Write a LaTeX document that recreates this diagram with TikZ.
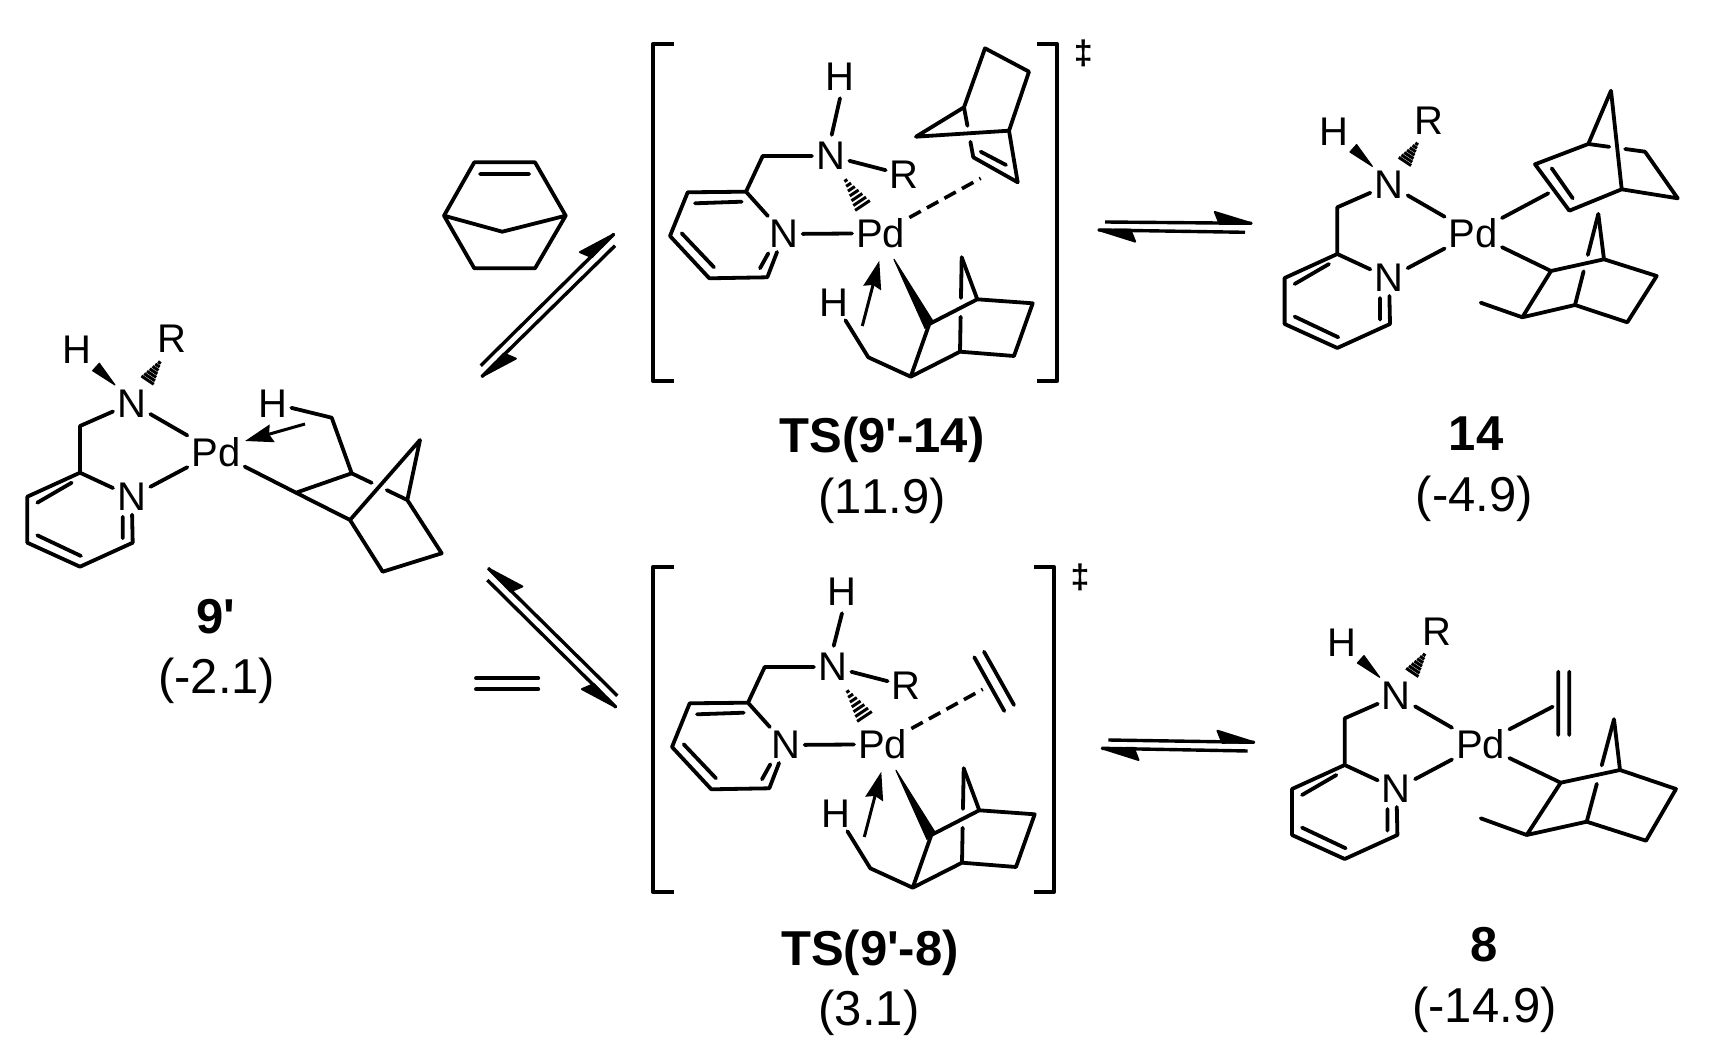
\documentclass[tikz,border=0pt]{standalone}
\usepackage{fontspec}
\setmainfont{Liberation Sans}[Ligatures=TeXOff,Kerning=Off]
\usetikzlibrary{calc,arrows.meta}

\tikzset{
	bondline/.style={line width=3.8pt,line cap=round,line join=round},
	hashline/.style={line width=3pt},
	wedgefill/.style={fill=black,draw=black,line width=1.2pt,line join=round},
	dashbond/.style={line width=3.6pt,dash pattern=on 13pt off 7pt},
	eqline/.style={line width=3.4pt,line join=round},
	donor/.style={line width=3pt,-{Stealth[length=28pt,width=18pt,inset=3pt]}},
	atom/.style={font=\fontsize{40}{40}\selectfont,inner sep=4pt},
	dagmark/.style={font=\fontsize{34}{34}\selectfont\bfseries,inner sep=0pt},
	cmpdname/.style={font=\fontsize{49}{49}\selectfont\bfseries,anchor=base,inner sep=0pt},
	energy/.style={font=\fontsize{49}{49}\selectfont,anchor=base,inner sep=0pt}
}

\def\placepts#1{\foreach \nm/\px/\py in {#1} \coordinate (\nm) at (\px,\py);}
\def\gapbond(#1)(#2)#3#4{\draw[bondline] (#1) -- ($(#1)!#3!(#2)$); \draw[bondline] ($(#1)!#4!(#2)$) -- (#2);}
\def\hashbond(#1)(#2)#3{\foreach \i in {0,...,6}{\pgfmathsetmacro\t{(\i+0.3)/6.6}\pgfmathsetmacro\w{1.4+#3*\t}
		\draw[hashline] ($($(#1)!\t!(#2)$)!\w pt!90:(#2)$) -- ($($(#1)!\t!(#2)$)!\w pt!-90:(#2)$);}}
\def\eqarrow(#1)(#2)#3#4{\draw[eqline] (#1) -- (#2);
	\filldraw[eqline,line width=2pt] (#2) -- ($(#2)!37pt!(#1)!11pt!#3:(#2)$) -- ($(#2)!32pt!(#1)!1pt!#4:(#2)$) -- cycle;}
% pyridine ring and its CH2 arm
\def\pyring{\draw[bondline] (n1) -- (ch2) -- (c2) -- (n2) -- (c6) -- (c5) -- (c4) -- (c3) -- (c2);
	\draw[bondline] (i1) -- (i2) (i3) -- (i4) (i5) -- (i6);}
% neutral fragment with H and R on N, origin at Pd
\def\pyfrag#1(#2){\begin{scope}[shift={(#2)},name prefix=#1-]
		\node[atom] (pd) at (0,0) {Pd};
		\node[atom] (n1) at (-84.3,-48.7) {N};
		\node[atom] (n2) at (-84.3,44.7) {N};
		\node[atom] (h) at (-139,-102) {H};
		\node[atom] (r) at (-44,-113) {R};
		\placepts{ch2/-136/-26,c2/-136/20.7,c3/-188.7/44.7,c4/-188.7/90.7,c5/-136/114.7,c6/-83.3/90.7,
			i1/-178.7/50.7,i2/-144.3/30.7,i3/-178.7/83.3,i4/-135/104,i5/-93.3/64.7,i6/-93.3/86.3,
			wa/-101/-67,wb/-116.7/-88.7,wc/-123.3/-81.3,ha/-56/-90.3,hb/-69/-71}
		\pyring
		\draw[bondline] (n1) -- (pd) (n2) -- (pd);
		\path[wedgefill] (wa) -- (wb) -- (wc) -- cycle;
		\hashbond(ha)(hb){6.3}
	\end{scope}}
% transition state fragment with the agostic norbornyl, origin at Pd
\def\tsfrag#1(#2)#3#4{\begin{scope}[shift={(#2)},name prefix=#1-]
		\node[atom] (pd) at (0,0) {Pd};
		\node[atom] (n1) at (-50,-77.3) {N};
		\node[atom] (n2) at (-96.7,0.7) {N};
		\node[atom] (h) at (-40.7,#3) {H};
		\node[atom] (r) at (23.6,-58.3) {R};
		\node[atom] (ha) at (-46.7,69) {H};
		\placepts{ch2/-118/-77.3,c2/-134.7/-41.6,c3/-193/-41,c4/-210.7/2.7,c5/-171.4/45,c6/-113.4/44,
			i1/-185.7/-30,i2/-139/-31.6,i3/-199/0,i4/-166.7/34,i5/-120.7/35,i6/-112.4/20,
			hsa/-35.7/-54,hsb/-17.4/-26.6,wa/13.3/26,wb/52.6/88.4,wc/44.3/95,
			cw/-33.4/90,cv/-12.4/124,cu/30/143.4,cp/48.6/90.7,cq/96.6/66,cr/152/70,cs/133.3/122.7,ct/79.3/118.4,cx/81/24,
			ar/-18.4/92.7,as/-1.4/27.4,nh/-49/-98.4,hn/-40.7/#4}
		\pyring
		\draw[bondline] (nh) -- (hn) (n1) -- (r) (n2) -- (pd);
		\hashbond(hsa)(hsb){7.8}
		\path[wedgefill] (wa) -- (wb) -- (wc) -- cycle;
		\draw[bondline] (ha) -- (cw) -- (cv) -- (cu) -- (cp) -- (cq) -- (cr) -- (cs) -- (ct) -- (cu) (cx) -- (cq);
		\gapbond(cx)(ct){0.43}{0.63}
		\draw[donor] (ar) -- (as);
	\end{scope}}
% norbornyl with its methyl end, points named beforehand
\def\nbalkyl#1{\begin{scope}[name prefix=#1-]
		\draw[bondline] (pd) -- (lp) -- (lq) -- (lr) -- (ls) -- (lt) -- (lu) -- (lp) (lu) -- (lm) (lv) -- (lq);
		\gapbond(lv)(lt){0.45}{0.63}
	\end{scope}}

\begin{document}
\begin{tikzpicture}[x=1pt,y=-1pt]
	\useasboundingbox (0,0) rectangle (1709,1056);
	%%%%% 9' %%%%%
	\pyfrag{nine}(216,452)
	\node[atom] (nineh) at (272.7,403.3) {H};
	\placepts{na/296/492.7,nb/351.7/473.3,nc/350/520,nd/407.3/500,ne/420/440,nf/382.7/571.7,ng/441.7/553.3,nch/331.7/417.7,
		nar/305/424,nas/245/441}
	\draw[bondline] (nine-pd) -- (na) -- (nb) -- (nch) -- (nineh);
	\draw[bondline] (na) -- (nc) -- (ne) -- (nd) -- (ng) -- (nf) -- (nc);
	\gapbond(nb)(nd){0.36}{0.63}
	\draw[donor] (nar) -- (nas);
	\node[cmpdname] (nname) at (215.5,633) {9'};
	\node[energy] (nen) at (216.7,693) {(-2.1)};
	
	%%%%% norbornene and ethylene on the arrows %%%%%
	\placepts{ba/474.3/162.3,bb/535/162.3,bc/565.7/215.7,bd/535/268.3,be/474.3/268.3,bf/444/215.7,bg/502.3/231.7,bi/480/174,bj/529.3/174}
	\draw[bondline] (ba) -- (bb) -- (bc) -- (bd) -- (be) -- (bf) -- cycle (bf) -- (bg) -- (bc) (bi) -- (bj);
	\placepts{ea/476/678.3,eb/538.3/678.3,ec/476/689.3,ed/538.3/689.3}
	\draw[bondline] (ea) -- (eb) (ec) -- (ed);
	
	%%%%% equilibrium arrows %%%%%
	\placepts{ua/480.7/365.7,ub/614/234,uc/615/245.7,ud/481.7/376.7,
		la/617.3/695.7,lb/488.3/568.3,lc/487.3/580,ld/616/707.3,
		ta/1105/222,tb/1251.7/223.3,tc/1245/232.3,td/1098.3/230,
		sa/1108.3/740,sb/1254.3/742.3,sc/1247.7/751,sd/1101.7/748.3}
	\eqarrow(ua)(ub){90}{-90}
	\eqarrow(uc)(ud){90}{-90}
	\eqarrow(la)(lb){-90}{90}
	\eqarrow(lc)(ld){-90}{90}
	\eqarrow(ta)(tb){90}{-90}
	\eqarrow(tc)(td){90}{-90}
	\eqarrow(sa)(sb){90}{-90}
	\eqarrow(sc)(sd){90}{-90}
	
	%%%%% TS(9'-14) %%%%%
	\tsfrag{tsa}(880.7,233.3){-156.6}{-135}
	\placepts{oa/985/48.3,ob/1029/71.7,oc/1009/130.7,od/964/107.3,oe/916/136.7,of/973.3/157.3,og/1017.7/182.3,
		oi/980.7/151.7,oj/1006/165,oh/980.7/178.3}
	\draw[bondline] (oe) -- (od) -- (oa) -- (ob) -- (oc) -- (oe) (oc) -- (og) -- (of) (oi) -- (oj);
	\gapbond(od)(of){0.37}{0.69}
	\draw[dashbond] (tsa-pd) -- (oh);
	\placepts{ka/674/44,kb/652.7/44,kc/652.7/380.7,kd/674/380.7,ke/1037.3/44,kf/1057.3/44,kg/1057.3/380.7,kh/1037.3/380.7}
	\draw[bondline,line cap=butt] (ka) -- (kb) -- (kc) -- (kd) (ke) -- (kf) -- (kg) -- (kh);
	\node[dagmark] (kdag) at (1083.3,53.3) {‡};
	\node[cmpdname] (kname) at (882,452.5) {TS(9'-14)};
	\node[energy] (ken) at (882,513.5) {(11.9)};
	
	%%%%% 14 %%%%%
	\pyfrag{ft}(1473.3,233.3)
	\placepts{fa/1535/164.3,fb/1569.3/210.7,fc/1621.7/189.3,fd/1588.3/144,fe/1611/90.7,ff/1645/151.7,fg/1677.7/198.3,
		fi/1551.7/168.3,fj/1572.7/198.3,fk/1548.3/193.3}
	\draw[bondline] (fb) -- (fa) -- (fd) -- (fe) -- (fc) -- (fb) (fc) -- (fg) -- (ff) (fi) -- (fj);
	\gapbond(fd)(ff){0.37}{0.65}
	\draw[bondline] (ft-pd) -- (fk);
	\placepts{ft-lp/1551/271,ft-lq/1604/259.3,ft-lr/1656.7/276,ft-ls/1627.3/322.3,ft-lt/1575/305,ft-lu/1522.3/317.3,ft-lm/1480.7/302.7,ft-lv/1598.3/214}
	\nbalkyl{ft}
	\node[cmpdname] (fname) at (1476,451) {14};
	\node[energy] (fen) at (1474.5,511.5) {(-4.9)};
	
	%%%%% TS(9'-8) %%%%%
	\tsfrag{tsb}(882.7,744.3){-152.6}{-131}
	\placepts{ya/974.3/657.3,yb/1004.3/711,yc/984/651.7,yd/1014/705,yh/982.7/689.3}
	\draw[bondline] (ya) -- (yb) (yc) -- (yd);
	\draw[dashbond] (tsb-pd) -- (yh);
	\placepts{ja/674/567.3,jb/652.7/567.3,jc/652.7/891.7,jd/674/891.7,je/1034.3/567.3,jf/1054.3/567.3,jg/1054.3/891.7,jh/1034.3/891.7}
	\draw[bondline,line cap=butt] (ja) -- (jb) -- (jc) -- (jd) (je) -- (jf) -- (jg) -- (jh);
	\node[dagmark] (jdag) at (1080,577.3) {‡};
	\node[cmpdname] (jname) at (870,965) {TS(9'-8)};
	\node[energy] (jen) at (869,1025) {(3.1)};
	
	%%%%% 8 %%%%%
	\pyfrag{et}(1480.7,744.3)
	\placepts{wa/1558.3/671.7,wb/1558.3/735,wc/1569.3/671.7,wd/1569.3/735,we/1552.7/706.7}
	\draw[bondline] (wa) -- (wb) (wc) -- (wd) (et-pd) -- (we);
	\placepts{et-lp/1560.7/782.7,et-lq/1620/770,et-lr/1676/789,et-ls/1646/840.7,et-lt/1586.7/821.7,et-lu/1526.7/835,et-lm/1480.7/818.3,et-lv/1614/719.3}
	\nbalkyl{et}
	\node[cmpdname] (ename) at (1484,961.5) {8};
	\node[energy] (een) at (1484.5,1022.5) {(-14.9)};
\end{tikzpicture}
\end{document}
